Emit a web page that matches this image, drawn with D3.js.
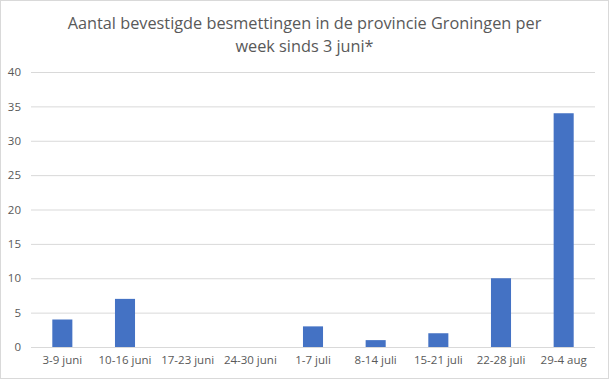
<!DOCTYPE html>
<html>
<head>
<meta charset="utf-8">
<script src="https://cdn.jsdelivr.net/npm/d3@7"></script>
<style>
  body { margin: 0; background: #fff; }
  text { font-family: "Open Sans", "Liberation Sans", sans-serif; }
</style>
</head>
<body>
<div id="chart"></div>
<script>
const weeks = ["3-9 juni", "10-16 juni", "17-23 juni", "24-30 juni", "1-7 juli",
  "8-14 juli", "15-21 juli", "22-28 juli", "29-4 aug"];
const cases = [4, 7, 0, 0, 3, 1, 2, 10, 34];
const yTicks = [0, 5, 10, 15, 20, 25, 30, 35, 40];
const titleLines = ["Aantal bevestigde besmettingen in de provincie Groningen per",
  "week sinds 3 juni*"];

const width = 609, height = 379;
const margin = {top: 72, right: 14, bottom: 32, left: 31};

const svg = d3.select("#chart").append("svg")
  .attr("width", width)
  .attr("height", height);

// outer border like the excel chart area
svg.append("rect")
  .attr("x", 0.5).attr("y", 0.5)
  .attr("width", width - 1).attr("height", height - 1)
  .attr("fill", "#fff")
  .attr("stroke", "#d9d9d9");

const x = d3.scaleBand(weeks, [margin.left, width - margin.right])
  .paddingInner(0.68)
  .paddingOuter(0.34);
const y = d3.scaleLinear([0, 40], [height - margin.bottom, margin.top]);

// gridlines + y labels
svg.append("g")
  .attr("transform", `translate(${margin.left},0)`)
  .call(d3.axisLeft(y).tickValues(yTicks).tickSize(0).tickPadding(10))
  .call(g => g.select(".domain").remove())
  .call(g => g.selectAll(".tick line").clone()
    .attr("x2", width - margin.left - margin.right)
    .attr("stroke", "#d9d9d9"))
  .call(g => g.selectAll(".tick text")
    .attr("fill", "#595959")
    .attr("font-size", 11.5));

svg.append("g")
  .selectAll("rect")
  .data(cases)
  .join("rect")
  .attr("x", (d, i) => x(weeks[i]))
  .attr("y", d => y(d))
  .attr("width", x.bandwidth())
  .attr("height", d => y(0) - y(d))
  .attr("fill", "#4472c4");

// x labels
svg.append("g")
  .attr("transform", `translate(0,${height - margin.bottom})`)
  .call(d3.axisBottom(x).tickSize(0).tickPadding(9))
  .call(g => g.select(".domain").remove())
  .call(g => g.selectAll(".tick text")
    .attr("fill", "#595959")
    .attr("font-size", 11.5));

svg.append("text")
  .attr("x", width / 2)
  .attr("text-anchor", "middle")
  .attr("fill", "#595959")
  .attr("font-size", 16.3)
  .selectAll("tspan")
  .data(titleLines)
  .join("tspan")
  .attr("x", width / 2)
  .attr("y", (d, i) => 29 + i * 23)
  .text(d => d);
</script>
</body>
</html>
